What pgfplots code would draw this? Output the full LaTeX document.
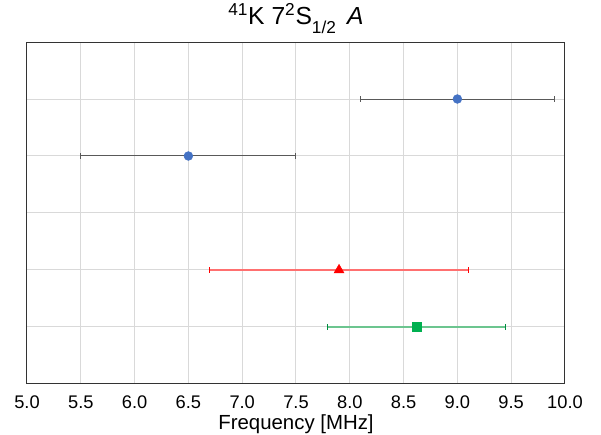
\documentclass[border=0pt]{standalone}
\usepackage{pgfplots}
\pgfplotsset{compat=1.18}
\usepackage{fontspec}
\setmainfont{Liberation Sans}

\definecolor{ptblue}{HTML}{4472C4}
\definecolor{ptred}{HTML}{FF0000}
\definecolor{ptgreen}{HTML}{00B050}
\definecolor{barred}{HTML}{FF7070}
\definecolor{bargreen}{HTML}{6CC58F}
\definecolor{bargray}{HTML}{595959}
\definecolor{gridgray}{HTML}{D9D9D9}

\begin{document}
\begin{tikzpicture}
% fixed page frame around the 403.5pt x 256.5pt plot box
\useasboundingbox (-20.25pt,-38.25pt) rectangle (430.5pt,288pt);
\begin{axis}[
  at={(0,0)}, anchor=south west,
  scale only axis,
  width=403.5pt, height=256.5pt,
  xmin=5, xmax=10, ymin=0, ymax=6,
  xtick={5,5.5,...,10},
  ytick={1,2,3,4,5},
  yticklabels={},
  /pgf/number format/fixed,
  /pgf/number format/fixed zerofill,
  /pgf/number format/precision=1,
  /pgf/number format/assume math mode=true,
  xticklabel style={font=\fontsize{13.7}{16}\selectfont, anchor=base, yshift=-18.75pt},
  tick style={draw=none},
  major tick length=0pt,
  grid=major,
  major grid style={draw=gridgray, line width=0.75pt},
  axis line style={draw=black!80, line width=0.75pt},
  xlabel={Frequency [MHz]},
  xlabel style={font=\fontsize{15.3}{18}\selectfont, at={(axis description cs:0.5,0)}, anchor=base, yshift=-34.5pt},
  title={\textsuperscript{41}K 7\textsuperscript{2}S\raisebox{-0.35ex}{\textsubscript{1/2}}\hspace{0.15em} \textit{A}},
  title style={font=\fontsize{18.5}{21}\selectfont, at={(axis description cs:0.5,1)}, anchor=base, yshift=7.5pt},
]
\addplot[only marks, mark=*, mark size=3.3pt, mark options={draw=ptblue, fill=ptblue},
  error bars/.cd, x dir=both, x explicit, error mark=|,
  error bar style={draw=bargray, line width=0.75pt},
  error mark options={draw=bargray, line width=0.75pt, mark size=2pt}]
  coordinates {(9.0,5) +- (0.9,0) (6.5,4) +- (1.0,0)};
\addplot[only marks, mark=triangle*, mark size=4.2pt, mark options={draw=ptred, fill=ptred},
  error bars/.cd, x dir=both, x explicit, error mark=|,
  error bar style={draw=barred, line width=1.2pt},
  error mark options={draw=ptred, line width=0.75pt, mark size=2.2pt}]
  coordinates {(7.9,2) +- (1.2,0)};
\addplot[only marks, mark=square*, mark size=3.4pt, mark options={draw=ptgreen, fill=ptgreen},
  error bars/.cd, x dir=both, x explicit, error mark=|,
  error bar style={draw=bargreen, line width=1.2pt},
  error mark options={draw=ptgreen!80!black, line width=0.75pt, mark size=2.2pt}]
  coordinates {(8.62,1) +- (0.83,0)};
\end{axis}
\end{tikzpicture}
\end{document}
